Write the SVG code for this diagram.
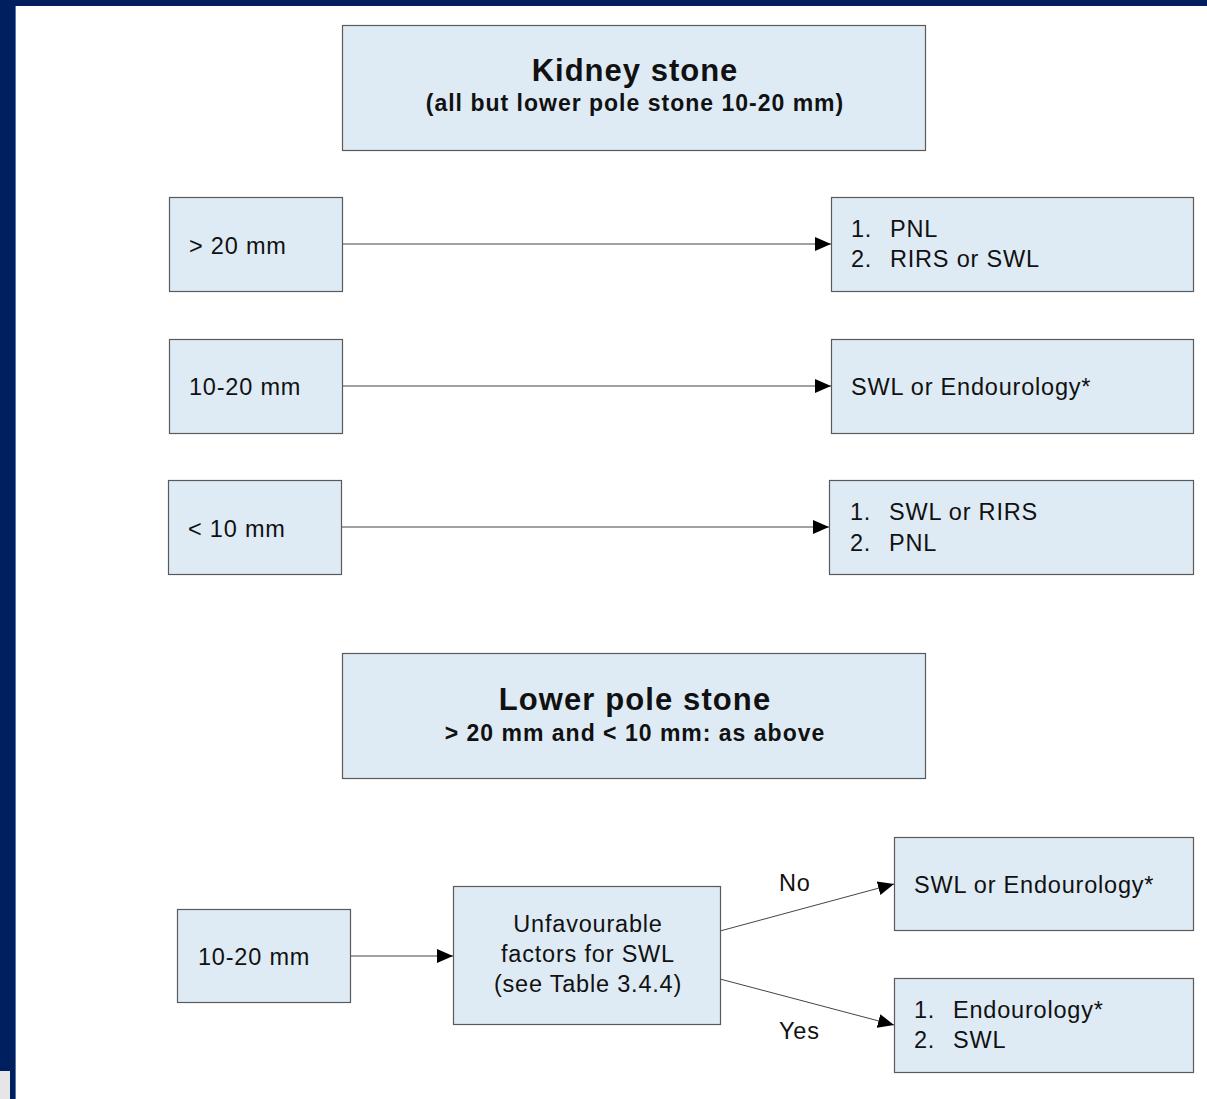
<svg xmlns="http://www.w3.org/2000/svg" width="1207" height="1099" viewBox="0 0 1207 1099">
<style>
.box{fill:#deebf5;stroke:#5a5a5a;stroke-width:1.2}
.t{font-family:"Liberation Sans",Arial,sans-serif;font-size:23.5px;letter-spacing:0.8px;fill:#111}
.h{font-family:"Liberation Sans",Arial,sans-serif;font-weight:bold;fill:#111;text-anchor:middle}
.c{stroke:#444;stroke-width:1;fill:none}
</style>
<defs>
<marker id="ar" markerWidth="16" markerHeight="14" refX="16" refY="7" orient="auto" markerUnits="userSpaceOnUse">
<path d="M0,0 L16,7 L0,14 Z" fill="#000"/>
</marker>
</defs>
<rect x="0" y="0" width="1207" height="1099" fill="#fff"/>
<rect x="0" y="0" width="1207" height="6" fill="#001f5f"/>
<rect x="0" y="0" width="15" height="1099" fill="#001f5f"/>
<rect x="15" y="6" width="1" height="1093" fill="#5b74a8"/>
<rect x="0" y="1071" width="10" height="28" fill="#e6e6e6"/>
<g id="connectors">
<line class="c" x1="343" y1="244" x2="831" y2="244" marker-end="url(#ar)"/>
<line class="c" x1="343" y1="386" x2="831" y2="386" marker-end="url(#ar)"/>
<line class="c" x1="342" y1="527" x2="829" y2="527" marker-end="url(#ar)"/>
<line class="c" x1="351" y1="956" x2="453" y2="956" marker-end="url(#ar)"/>
<line class="c" x1="720" y1="931" x2="894" y2="884" marker-end="url(#ar)"/>
<line class="c" x1="720" y1="979" x2="894" y2="1025" marker-end="url(#ar)"/>
<text class="t" x="779" y="891">No</text>
<text class="t" x="779" y="1039">Yes</text>
</g>
<g id="title1">
<rect class="box" x="342.5" y="25.5" width="583" height="125"/>
<text class="h" x="635" y="81" font-size="31" letter-spacing="1">Kidney stone</text>
<text class="h" x="635" y="111" font-size="23" letter-spacing="1">(all but lower pole stone 10-20 mm)</text>
</g>
<g id="gt20">
<rect class="box" x="169.5" y="197.5" width="173" height="94"/>
<text class="t" x="189" y="254">&gt; 20 mm</text>
</g>
<g id="r1">
<rect class="box" x="831.5" y="197.5" width="362" height="94"/>
<text class="t" x="851" y="237">1.</text><text class="t" x="890" y="237">PNL</text>
<text class="t" x="851" y="267">2.</text><text class="t" x="890" y="267">RIRS or SWL</text>
</g>
<g id="mid">
<rect class="box" x="169.5" y="339.5" width="173" height="94"/>
<text class="t" x="189" y="395">10-20 mm</text>
</g>
<g id="r2">
<rect class="box" x="831.5" y="339.5" width="362" height="94"/>
<text class="t" x="851" y="395">SWL or Endourology*</text>
</g>
<g id="lt10">
<rect class="box" x="168.5" y="480.5" width="173" height="94"/>
<text class="t" x="188" y="537">&lt; 10 mm</text>
</g>
<g id="r3">
<rect class="box" x="829.5" y="480.5" width="364" height="94"/>
<text class="t" x="850" y="520">1.</text><text class="t" x="889" y="520">SWL or RIRS</text>
<text class="t" x="850" y="551">2.</text><text class="t" x="889" y="551">PNL</text>
</g>
<g id="title2">
<rect class="box" x="342.5" y="653.5" width="583" height="125"/>
<text class="h" x="635" y="710" font-size="31" letter-spacing="1.1">Lower pole stone</text>
<text class="h" x="635" y="741" font-size="23" letter-spacing="1">&gt; 20 mm and &lt; 10 mm: as above</text>
</g>
<g id="lp1020">
<rect class="box" x="177.5" y="909.5" width="173" height="93"/>
<text class="t" x="198" y="965">10-20 mm</text>
</g>
<g id="unfav">
<rect class="box" x="453.5" y="886.5" width="267" height="138"/>
<text class="t" x="588" y="932" text-anchor="middle">Unfavourable</text>
<text class="t" x="588" y="962" text-anchor="middle">factors for SWL</text>
<text class="t" x="588" y="992" text-anchor="middle">(see Table 3.4.4)</text>
</g>
<g id="no">
<rect class="box" x="894.5" y="837.5" width="299" height="93"/>
<text class="t" x="914" y="893">SWL or Endourology*</text>
</g>
<g id="yes">
<rect class="box" x="894.5" y="978.5" width="299" height="94"/>
<text class="t" x="914" y="1018">1.</text><text class="t" x="953" y="1018">Endourology*</text>
<text class="t" x="914" y="1048">2.</text><text class="t" x="953" y="1048">SWL</text>
</g>
</svg>
